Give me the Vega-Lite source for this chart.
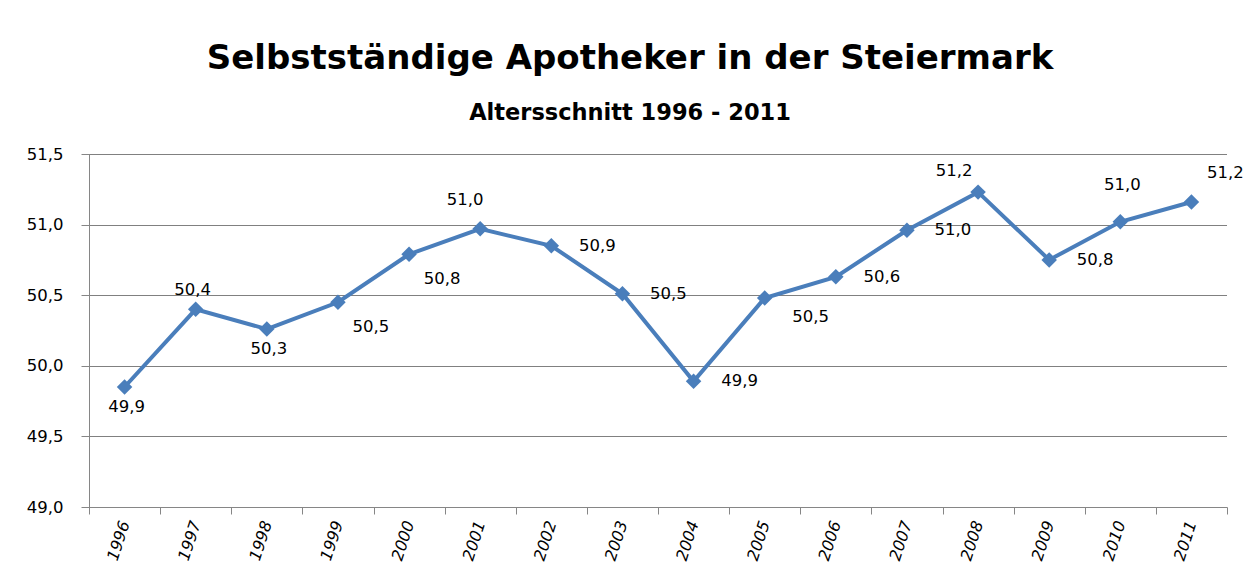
{
  "$schema": "https://vega.github.io/schema/vega-lite/v6.json",
  "width": 1138,
  "height": 353,
  "autosize": {"type": "none"},
  "padding": {"left": 89, "top": 154, "right": 17, "bottom": 80},
  "background": "white",
  "config": {
    "locale": {"number": {"decimal": ",", "thousands": ".", "grouping": [3], "currency": ["", " €"]}},
    "view": {"stroke": null},
    "font": "DejaVu Sans"
  },
  "title": {
    "text": "Selbstständige Apotheker in der Steiermark",
    "subtitle": "Altersschnitt 1996 - 2011",
    "anchor": "middle",
    "dx": -28,
    "offset": 22,
    "font": "DejaVu Sans",
    "fontSize": 34,
    "fontWeight": "bold",
    "color": "black",
    "subtitleFont": "DejaVu Sans",
    "subtitleFontSize": 22.5,
    "subtitleFontWeight": "bold",
    "subtitleColor": "black",
    "subtitlePadding": 26
  },
  "data": {
    "values": [
      {"Jahr": "1996", "Alter": 49.85},
      {"Jahr": "1997", "Alter": 50.40},
      {"Jahr": "1998", "Alter": 50.26},
      {"Jahr": "1999", "Alter": 50.45},
      {"Jahr": "2000", "Alter": 50.79},
      {"Jahr": "2001", "Alter": 50.97},
      {"Jahr": "2002", "Alter": 50.85},
      {"Jahr": "2003", "Alter": 50.51},
      {"Jahr": "2004", "Alter": 49.89},
      {"Jahr": "2005", "Alter": 50.48},
      {"Jahr": "2006", "Alter": 50.63},
      {"Jahr": "2007", "Alter": 50.96},
      {"Jahr": "2008", "Alter": 51.23},
      {"Jahr": "2009", "Alter": 50.75},
      {"Jahr": "2010", "Alter": 51.02},
      {"Jahr": "2011", "Alter": 51.16}
    ]
  },
  "encoding": {
    "x": {
      "field": "Jahr",
      "type": "ordinal",
      "title": null,
      "scale": {"type": "band", "paddingInner": 0, "paddingOuter": 0},
      "axis": {
        "tickBand": "extent",
        "labelAngle": -72,
        "labelFont": "DejaVu Sans",
        "labelFontSize": 16,
        "labelFontStyle": "italic",
        "labelColor": "black",
        "labelPadding": 7,
        "tickSize": 7,
        "tickColor": "#868686",
        "domainColor": "#868686",
        "grid": false
      }
    },
    "y": {
      "field": "Alter",
      "type": "quantitative",
      "title": null,
      "scale": {"domain": [49, 51.5], "zero": false, "nice": false},
      "axis": {
        "values": [49, 49.5, 50, 50.5, 51, 51.5],
        "format": ".1f",
        "labelFont": "DejaVu Sans",
        "labelFontSize": 16.5,
        "labelColor": "black",
        "labelPadding": 18,
        "tickSize": 8,
        "tickColor": "#868686",
        "domainColor": "#868686",
        "grid": true,
        "gridColor": "#000000",
        "gridDash": [1, 1],
        "gridWidth": 1
      }
    }
  },
  "layer": [
    {"mark": {"type": "line", "color": "#4A7EBB", "strokeWidth": 4}},
    {"mark": {"type": "point", "shape": "diamond", "filled": true, "size": 240, "color": "#4A7EBB", "opacity": 1}},
    {
      "transform": [{"filter": {"field": "Jahr", "oneOf": ["2002", "2003", "2004", "2006", "2007", "2009"]}}],
      "mark": {"type": "text", "dx": 46, "dy": 0, "fontSize": 16.5, "color": "black", "font": "DejaVu Sans"},
      "encoding": {"text": {"field": "Alter", "type": "quantitative", "format": ".1f"}}
    },
    {
      "transform": [{"filter": {"field": "Jahr", "oneOf": ["1999", "2000"]}}],
      "mark": {"type": "text", "dx": 33, "dy": 25, "fontSize": 16.5, "color": "black", "font": "DejaVu Sans"},
      "encoding": {"text": {"field": "Alter", "type": "quantitative", "format": ".1f"}}
    },
    {
      "transform": [{"filter": {"field": "Jahr", "oneOf": ["2005"]}}],
      "mark": {"type": "text", "dx": 46, "dy": 19, "fontSize": 16.5, "color": "black", "font": "DejaVu Sans"},
      "encoding": {"text": {"field": "Alter", "type": "quantitative", "format": ".1f"}}
    },
    {
      "transform": [{"filter": {"field": "Jahr", "oneOf": ["1996", "1998"]}}],
      "mark": {"type": "text", "dx": 2, "dy": 20, "fontSize": 16.5, "color": "black", "font": "DejaVu Sans"},
      "encoding": {"text": {"field": "Alter", "type": "quantitative", "format": ".1f"}}
    },
    {
      "transform": [{"filter": {"field": "Jahr", "oneOf": ["1997"]}}],
      "mark": {"type": "text", "dx": -3, "dy": -19, "fontSize": 16.5, "color": "black", "font": "DejaVu Sans"},
      "encoding": {"text": {"field": "Alter", "type": "quantitative", "format": ".1f"}}
    },
    {
      "transform": [{"filter": {"field": "Jahr", "oneOf": ["2008"]}}],
      "mark": {"type": "text", "dx": -24, "dy": -21, "fontSize": 16.5, "color": "black", "font": "DejaVu Sans"},
      "encoding": {"text": {"field": "Alter", "type": "quantitative", "format": ".1f"}}
    },
    {
      "transform": [{"filter": {"field": "Jahr", "oneOf": ["2001"]}}],
      "mark": {"type": "text", "dx": -15, "dy": -29, "fontSize": 16.5, "color": "black", "font": "DejaVu Sans"},
      "encoding": {"text": {"field": "Alter", "type": "quantitative", "format": ".1f"}}
    },
    {
      "transform": [{"filter": {"field": "Jahr", "oneOf": ["2010"]}}],
      "mark": {"type": "text", "dx": 2, "dy": -37, "fontSize": 16.5, "color": "black", "font": "DejaVu Sans"},
      "encoding": {"text": {"field": "Alter", "type": "quantitative", "format": ".1f"}}
    },
    {
      "transform": [{"filter": {"field": "Jahr", "oneOf": ["2011"]}}],
      "mark": {"type": "text", "dx": 34, "dy": -29, "fontSize": 16.5, "color": "black", "font": "DejaVu Sans"},
      "encoding": {"text": {"field": "Alter", "type": "quantitative", "format": ".1f"}}
    }
  ]
}
